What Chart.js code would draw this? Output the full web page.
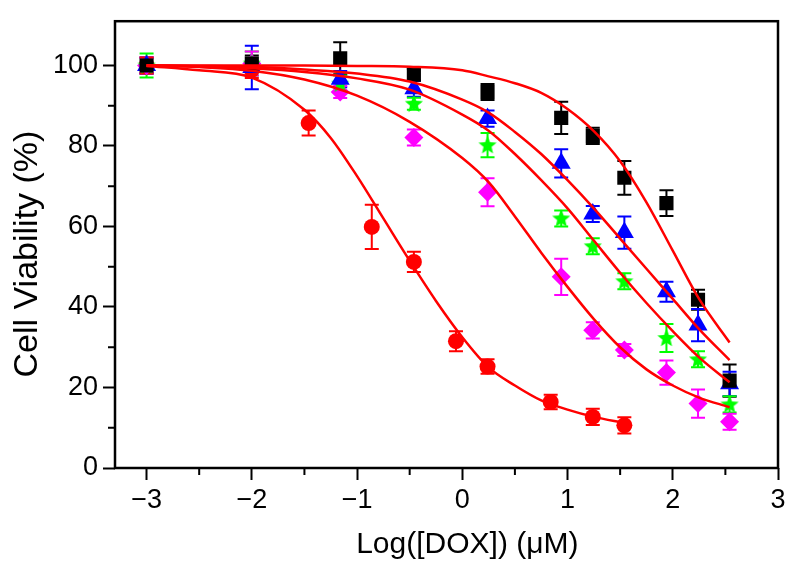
<!DOCTYPE html>
<html>
<head>
<meta charset="utf-8">
<script src="https://cdn.jsdelivr.net/npm/chart.js@4.4.1/dist/chart.umd.min.js"></script>
<style>
  body { margin: 0; background: #fff; }
  #wrap { width: 800px; height: 572px; }
</style>
</head>
<body>
<div id="wrap"><canvas id="grafico" width="800" height="572"></canvas></div>
<script>
// log concentration of DOX (uM) for the measured points
const xDosi = [-3, -2, -1.16, -0.46, 0.24, 0.94, 1.24, 1.54, 1.94, 2.24, 2.54];
const xDosiRosso = [-3, -2, -1.46, -0.86, -0.46, -0.06, 0.24, 0.84, 1.24, 1.54];

// cell viability (%) and error bars
const neroY = [100, 100.5, 101.8, 97.7, 93.4, 87.0, 82.5, 72.1, 65.8, 41.8, 21.7];
const neroErr = [2, 2, 4, 1.5, 2, 4, 2, 4.2, 3.2, 2.5, 4];
const bluY = [100, 99.5, 96.6, 94.2, 86.8, 75.7, 63.1, 58.5, 43.8, 35.5, 20.9];
const bluErr = [2, 5.4, 2, 2, 2, 3.5, 2, 4, 2.5, 4, 3];
const verdeY = [100, 100.5, 95.5, 90.5, 80.2, 62.0, 55.1, 46.4, 32.3, 27.0, 15.8];
const verdeErr = [3, 3, 2, 1.5, 3, 2, 2, 2, 3.5, 2, 2];
const rosaY = [100, 100.5, 93.4, 82.1, 68.5, 47.5, 34.2, 29.3, 23.7, 16.0, 11.5];
const rosaErr = [2, 3, 1.5, 2, 3.5, 4.5, 2, 1.5, 3, 3.5, 2];
const rossoY = [100, 98.9, 85.7, 59.9, 51.2, 31.5, 25.2, 16.4, 12.7, 10.6];
const rossoErr = [2, 2, 3.1, 5.5, 2.5, 2.5, 1.8, 1.8, 2, 2];

// fitted curves
const xCurva = [-3, -2.5, -2, -1.5, -1, -0.5, 0, 0.25, 0.5, 0.75, 1, 1.25, 1.5, 1.75, 2, 2.25, 2.54];
const curvaNero = [100, 100, 100, 100, 99.9, 99.7, 98.8, 97.3, 95.6, 93.2, 89.2, 83.7, 76.2, 66, 54, 42, 31.2];
const curvaBlu = [100, 99.9, 99.7, 99, 98, 96, 91.5, 88.3, 83.5, 78, 71.5, 64.5, 57, 49.5, 42, 34.5, 26.8];
const curvaVerde = [100, 99.8, 99.3, 98.4, 96.8, 94, 87.8, 83.8, 78, 71.5, 64.5, 56.5, 48.5, 41, 34, 27.5, 21.3];
const curvaRosa = [100, 99.6, 98.7, 96.5, 92.5, 86, 77, 71, 62.5, 53.5, 45, 37, 30, 24.5, 20.5, 17.5, 15.1];
const xCurvaRossa = [-3, -2.5, -2, -1.5, -1.25, -1, -0.75, -0.5, -0.25, 0, 0.25, 0.5, 0.75, 1, 1.25, 1.54];
const curvaRossa = [99.9, 98.8, 97, 89, 82, 72.5, 62, 51.5, 41.5, 32.5, 25, 20.5, 16.8, 14.5, 12.7, 11.2];

// axis ticks
const xTicks = [-3, -2, -1, 0, 1, 2, 3];
const xMinori = [-2.5, -1.5, -0.5, 0.5, 1.5, 2.5];
const yTicks = [0, 20, 40, 60, 80, 100];
const yMinori = [10, 30, 50, 70, 90];

const FONT = "'Liberation Sans', Arial, Helvetica, sans-serif";

function punti(xs, ys) {
    return xs.map((x, i) => ({ x: x, y: ys[i] }));
}

// green star marker
function creaStella(colore) {
    const c = document.createElement('canvas');
    c.width = 20; c.height = 20;
    const g = c.getContext('2d');
    g.beginPath();
    for (let i = 0; i < 10; i++) {
        const r = i % 2 === 0 ? 9.5 : 4.2;
        const a = -Math.PI / 2 + i * Math.PI / 5;
        const px = 10 + r * Math.cos(a), py = 10.5 + r * Math.sin(a);
        if (i === 0) g.moveTo(px, py); else g.lineTo(px, py);
    }
    g.closePath();
    g.fillStyle = colore;
    g.fill();
    return c;
}

function serie(xs, ys, errs, colore, stile, raggio) {
    return {
        data: punti(xs, ys),
        errs: errs,
        backgroundColor: colore,
        borderColor: colore,
        borderWidth: 0,
        pointStyle: stile,
        pointRadius: raggio,
        showLine: false,
        order: 1
    };
}

function curva(xs, ys) {
    return {
        data: punti(xs, ys),
        showLine: true,
        borderColor: '#ff0000',
        borderWidth: 2.5,
        pointRadius: 0,
        cubicInterpolationMode: 'monotone',
        fill: false,
        order: 0
    };
}

// error bars under the markers
const barreErrore = {
    id: 'barreErrore',
    beforeDatasetsDraw(chart) {
        const ctx = chart.ctx;
        const ys = chart.scales.y;
        chart.data.datasets.forEach((ds, i) => {
            if (!ds.errs) return;
            const meta = chart.getDatasetMeta(i);
            ctx.save();
            ctx.strokeStyle = ds.borderColor;
            ctx.lineWidth = 2;
            meta.data.forEach((p, j) => {
                const v = ds.data[j].y, e = ds.errs[j];
                const top = ys.getPixelForValue(v + e);
                const bot = ys.getPixelForValue(v - e);
                ctx.beginPath();
                ctx.moveTo(p.x, top); ctx.lineTo(p.x, bot);
                ctx.moveTo(p.x - 7, top); ctx.lineTo(p.x + 7, top);
                ctx.moveTo(p.x - 7, bot); ctx.lineTo(p.x + 7, bot);
                ctx.stroke();
            });
            ctx.restore();
        });
    }
};

// frame and minor ticks
const cornice = {
    id: 'cornice',
    afterDraw(chart) {
        const ctx = chart.ctx;
        const a = chart.chartArea;
        const xs = chart.scales.x, ys = chart.scales.y;
        ctx.save();
        ctx.strokeStyle = '#000';
        ctx.lineWidth = 2;
        ctx.beginPath();
        xMinori.forEach(v => {
            const px = xs.getPixelForValue(v);
            ctx.moveTo(px, a.bottom); ctx.lineTo(px, a.bottom + 7);
        });
        yMinori.forEach(v => {
            const py = ys.getPixelForValue(v);
            ctx.moveTo(a.left, py); ctx.lineTo(a.left - 7, py);
        });
        ctx.stroke();
        ctx.lineWidth = 2.5;
        ctx.strokeRect(a.left, a.top, a.right - a.left, a.bottom - a.top);
        ctx.restore();
    }
};

const ctx = document.getElementById('grafico').getContext('2d');
new Chart(ctx, {
    type: 'scatter',
    data: {
        datasets: [
            curva(xCurva, curvaNero),
            curva(xCurva, curvaBlu),
            curva(xCurva, curvaVerde),
            curva(xCurva, curvaRosa),
            curva(xCurvaRossa, curvaRossa),
            serie(xDosi, neroY, neroErr, '#000000', 'rect', 10),
            serie(xDosi, bluY, bluErr, '#0000ff', 'triangle', 11),
            serie(xDosi, verdeY, verdeErr, '#00ff00', creaStella('#00ff00'), 10),
            serie(xDosi, rosaY, rosaErr, '#ff00ff', 'rectRot', 9.5),
            serie(xDosiRosso, rossoY, rossoErr, '#ff0000', 'circle', 8)
        ]
    },
    options: {
        responsive: false,
        animation: false,
        layout: { padding: { top: 17, right: 22, left: 0, bottom: 0 } },
        plugins: {
            legend: { display: false },
            tooltip: { enabled: false }
        },
        scales: {
            x: {
                type: 'linear',
                min: -3.3,
                max: 3,
                afterBuildTicks: s => { s.ticks = xTicks.map(v => ({ value: v })); },
                afterFit: s => { s.height = 104; },
                border: { display: false },
                grid: { drawOnChartArea: false, tickLength: 12, tickWidth: 2, tickColor: '#000' },
                ticks: {
                    color: '#000',
                    padding: 4,
                    font: { family: FONT, size: 27 },
                    callback: v => String(v).replace('-', '\u2212')
                },
                title: {
                    display: true,
                    // leading spaces push the title a little right, as in the original
                    text: '     Log([DOX]) (\u03bcM)',
                    color: '#000',
                    font: { family: FONT, size: 30 },
                    padding: { top: 0, bottom: 9 }
                }
            },
            y: {
                type: 'linear',
                min: 0,
                max: 111,
                afterBuildTicks: s => { s.ticks = yTicks.map(v => ({ value: v })); },
                afterFit: s => { s.width = 115; },
                border: { display: false },
                grid: { drawOnChartArea: false, tickLength: 12, tickWidth: 2, tickColor: '#000' },
                ticks: {
                    color: '#000',
                    padding: 5,
                    font: { family: FONT, size: 27 }
                },
                title: {
                    display: true,
                    text: 'Cell Viability (%)  ',
                    color: '#000',
                    font: { family: FONT, size: 34 },
                    padding: { top: 7, bottom: 0 }
                }
            }
        }
    },
    plugins: [barreErrore, cornice]
});
</script>
</body>
</html>
